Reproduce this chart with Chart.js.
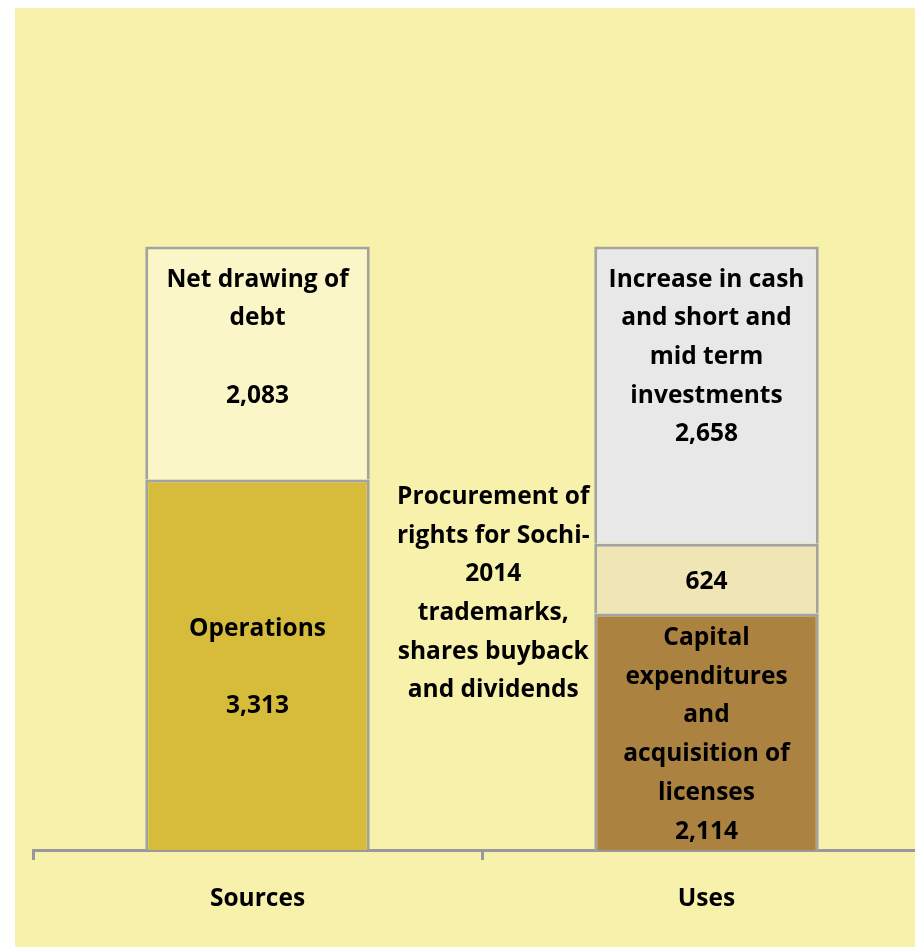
<!DOCTYPE html>
<html>
<head>
<meta charset="utf-8">
<script src="https://cdn.jsdelivr.net/npm/chart.js@4"></script>
<style>
  html, body { margin: 0; padding: 0; background: #ffffff; overflow: hidden; width: 915px; height: 947px; }
  #wrap { position: absolute; left: 15px; top: 8px; width: 900px; height: 939px; overflow: hidden; background: #F7F1AB; }
  canvas { display: block; }
</style>
</head>
<body>
<div id="wrap"><canvas id="c" width="940" height="939"></canvas></div>
<script>
// ---- data ----
const categories = ['Sources', 'Uses'];
const bottomValues = [3313, 2114];   // Operations / Capital expenditures
const middleValues = [null, 624];    // Procurement of rights ... (Uses only)
const topValues = [2083, 2658];      // Net drawing of debt / Increase in cash

const bottomLabels = [['Operations', '', '3,313'], ['Capital', 'expenditures', 'and', 'acquisition of', 'licenses', '2,114']];
const middleLabels = [null, ['624']];
const topLabels = [['Net drawing of', 'debt', '', '2,083'], ['Increase in cash', 'and short and', 'mid term', 'investments', '2,658']];
const sideLabel = ['Procurement of', 'rights for Sochi-', '2014', 'trademarks,', 'shares buyback', 'and dividends'];

const FAMILY = '"Open Sans", Lato, "Liberation Sans", sans-serif';
const FONT = 'bold 24.5px ' + FAMILY;
const LINE_H = 38.7;
const DY = 3;

const labelPlugin = {
  id: 'segLabels',
  afterDatasetsDraw(chart) {
    const ctx = chart.ctx;
    ctx.save();
    ctx.font = FONT;
    ctx.fillStyle = '#000';
    ctx.textAlign = 'center';
    ctx.textBaseline = 'middle';
    const sets = [bottomLabels, middleLabels, topLabels];
    sets.forEach((lbls, di) => {
      const meta = chart.getDatasetMeta(di);
      meta.data.forEach((el, i) => {
        const lines = lbls[i];
        if (!lines) return;
        const top = Math.min(el.y, el.base), bot = Math.max(el.y, el.base);
        let first;
        if (di === 2) {
          first = top + 30;               // inside end
        } else {
          const c = (top + bot) / 2;
          first = c - (lines.length - 1) * LINE_H / 2;
        }
        lines.forEach((t, k) => ctx.fillText(t, el.x, first + k * LINE_H + DY));
      });
    });
    // side label next to the middle Uses segment
    const el = chart.getDatasetMeta(1).data[1];
    const cx = el.x - el.width / 2 - 101;
    const cy = (el.y + el.base) / 2 + 12;
    const f = cy - (sideLabel.length - 1) * LINE_H / 2;
    sideLabel.forEach((t, k) => ctx.fillText(t, cx, f + k * LINE_H + DY));
    ctx.restore();
  }
};

new Chart(document.getElementById('c'), {
  type: 'bar',
  data: {
    labels: categories,
    datasets: [
      { label: 'Bottom', data: bottomValues, backgroundColor: ['#D6BC3A', '#AB823F'] },
      { label: 'Middle', data: middleValues, backgroundColor: ['#F0E5B5', '#F0E5B5'] },
      { label: 'Top', data: topValues, backgroundColor: ['#FBF6C8', '#E8E8E8'] }
    ].map(d => Object.assign(d, { borderColor: '#A3A3A3', borderWidth: 3, barPercentage: 0.5, categoryPercentage: 1.0, borderSkipped: 'start' }))
  },
  options: {
    responsive: false,
    animation: false,
    devicePixelRatio: 1,
    layout: { padding: { left: 18, right: 24, top: 171, bottom: 0 } },
    plugins: { legend: { display: false }, tooltip: { enabled: false } },
    scales: {
      y: { display: false, stacked: true, min: 0, max: 6000 },
      x: {
        stacked: true,
        grid: { display: true, drawOnChartArea: false, drawTicks: true, tickLength: 10, color: '#999999', lineWidth: 3, offset: true },
        border: { display: true, color: '#999999', width: 3 },
        ticks: { color: '#000', font: { family: FAMILY, size: 24.5, weight: 'bold' }, padding: 24 },
        afterFit(s) { s.height = 97; }
      }
    }
  },
  plugins: [labelPlugin]
});
</script>
</body>
</html>
